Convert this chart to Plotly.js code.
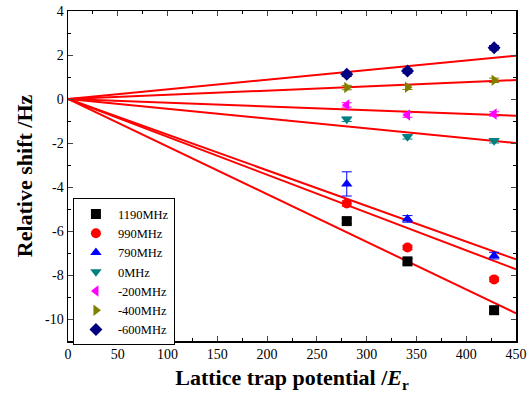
<!DOCTYPE html>
<html><head><meta charset="utf-8">
<script src="https://cdn.plot.ly/plotly-3.0.1.min.js"></script>
<style>html,body{margin:0;padding:0;background:#fff}#c{width:530px;height:399px}</style>
</head><body><div id="c"></div>
<script>
const xPos = [280, 341, 428];
const seriesNames = ["1190MHz", "990MHz", "790MHz", "0MHz", "-200MHz", "-400MHz", "-600MHz"];
const s1190 = [-5.55, -7.38, -9.6];
const s990 = [-4.75, -6.75, -8.2];
const s790 = [-3.86, -5.45, -7.12];
const s0 = [-0.92, -1.72, -1.9];
const sm200 = [-0.27, -0.73, -0.68];
const sm400 = [0.52, 0.53, 0.85];
const sm600 = [1.12, 1.27, 2.33];
const errs = [
  [0.12, 0.12, 0.12],
  [0.12, 0.1, 0.1],
  [0.55, 0.15, 0.15],
  [0.1, 0.1, 0.1],
  [0.1, 0.1, 0.1],
  [0.1, 0.1, 0.1],
  [0.1, 0.1, 0.1]
];
const fitX = [0, 450];
const fitEnd = [-9.74, -7.74, -7.29, -2.0, -0.76, 0.86, 1.97];
const yTicks = [-10, -8, -6, -4, -2, 0, 2, 4];
const yTickText = ["-10", "-8", "-6", "-4", "-2", "0", "2", "4"];
const xTicks = [0, 50, 100, 150, 200, 250, 300, 350, 400, 450];

const allY = [s1190, s990, s790, s0, sm200, sm400, sm600];
const colors = ["#000000", "#ff0000", "#0000ff", "#008080", "#ff00ff", "#808000", "#000080"];
const symbols = ["square", "circle", "triangle-up", "triangle-down", "triangle-left", "triangle-right", "diamond"];

const traces = [];
fitEnd.forEach((e) => {
  traces.push({x: fitX, y: [0, e], mode: "lines", line: {color: "#ff0000", width: 2}, showlegend: false, hoverinfo: "skip"});
});
allY.forEach((ys, i) => {
  traces.push({
    x: xPos, y: ys, mode: "markers", name: seriesNames[i],
    marker: {symbol: symbols[i], color: colors[i], size: 10, line: {width: 0}},
    error_y: {type: "data", array: errs[i], visible: true, color: colors[i], thickness: 1, width: 5}
  });
});

const serif = "Liberation Serif, Times New Roman, serif";
const tickFont = {family: serif, size: 14, color: "#000"};
const layout = {
  width: 530, height: 399,
  margin: {l: 68, r: 14, t: 11, b: 58},
  paper_bgcolor: "#fff", plot_bgcolor: "#fff",
  showlegend: true,
  legend: {
    x: 0.011, y: 0.432, xanchor: "left", yanchor: "top",
    bordercolor: "#000", borderwidth: 1, bgcolor: "#fff",
    font: {family: serif, size: 12.5, color: "#000"},
    tracegroupgap: 0, itemwidth: 34
  },
  xaxis: {
    range: [0, 450], tickvals: xTicks, ticks: "inside", ticklen: 5, tickwidth: 1,
    showline: true, linecolor: "#000", linewidth: 1.5, mirror: "ticks", showgrid: false, zeroline: false,
    minor: {dtick: 25, ticks: "inside", ticklen: 3, tickcolor: "#000", showgrid: false},
    tickfont: tickFont,
    title: {text: "<b>Lattice trap potential /<i>E</i><sub>r</sub></b>", font: {family: serif, size: 22, color: "#000"}, standoff: 8}
  },
  yaxis: {
    range: [-11, 4], tickvals: yTicks, ticktext: yTickText, ticks: "inside", ticklen: 5, tickwidth: 1,
    showline: true, linecolor: "#000", linewidth: 1.5, mirror: "ticks", showgrid: false, zeroline: false,
    minor: {dtick: 1, ticks: "inside", ticklen: 3, tickcolor: "#000", showgrid: false},
    tickfont: tickFont,
    title: {text: "<b>Relative shift /Hz</b>", font: {family: serif, size: 22, color: "#000"}, standoff: 6}
  }
};
Plotly.newPlot("c", traces, layout, {displayModeBar: false, staticPlot: true});
</script></body></html>
